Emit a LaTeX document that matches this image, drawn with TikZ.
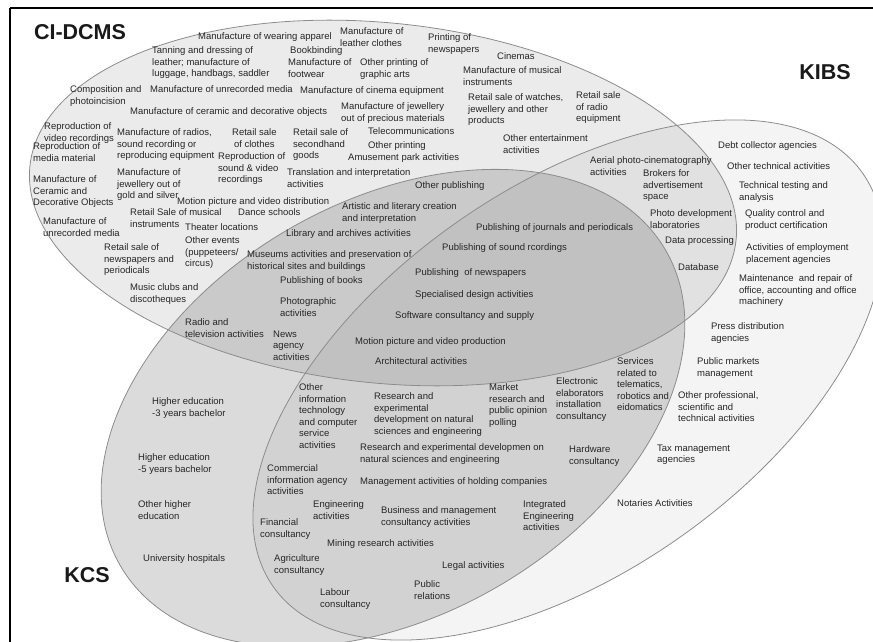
\documentclass[tikz,border=0pt]{standalone}
\usepackage{fontspec}
\setmainfont{Liberation Sans}
\begin{document}
\begin{tikzpicture}[x=1pt,y=-1pt,
  lbl/.style={font=\fontsize{9.5}{11.6}\selectfont, text=black!85, anchor=north west, align=left, inner sep=0pt},
  big/.style={font=\fontsize{21.5}{25}\selectfont\bfseries, text=black!90, inner sep=0pt},
  setline/.style={draw=black!45, line width=0.8pt}]
\useasboundingbox (0,0) rectangle (873,642);
\clip (0,0) rectangle (873,642);
% set fills
\fill[black, fill opacity=0.08, rotate around={-6:(383,203)}] (383,203) ellipse [x radius=355, y radius=180];
\fill[black, fill opacity=0.045, rotate around={35:(568,380)}] (568,380) ellipse [x radius=360, y radius=193];
\fill[black, fill opacity=0.14, rotate around={30:(393,408)}] (393,408) ellipse [x radius=315, y radius=207];
% outlines
\draw[setline, rotate around={-6:(383,203)}] (383,203) ellipse [x radius=355, y radius=180];
\draw[setline, rotate around={35:(568,380)}] (568,380) ellipse [x radius=360, y radius=193];
\draw[setline, rotate around={30:(393,408)}] (393,408) ellipse [x radius=315, y radius=207];
% frame
\draw[black, line width=1.2pt] (10,8) -- (873,8);
\draw[black, line width=1.2pt] (10,8) -- (10,642);
% set labels
\node[big] (ci) at (80,32) {CI-DCMS};
\node[big] (kibs) at (825,72) {KIBS};
\node[big] (kcs) at (87,575) {KCS};
% activities
\node[lbl] (t1) at (198,32.5) {Manufacture of wearing apparel};
\node[lbl] (t2) at (340,27.5) {Manufacture of\\leather clothes};
\node[lbl] (t3) at (428,33.5) {Printing of\\newspapers};
\node[lbl] (t4) at (152,46.5) {Tanning and dressing of\\leather; manufacture of\\luggage, handbags, saddler};
\node[lbl] (t5) at (290,46.5) {Bookbinding};
\node[lbl] (t6) at (288,58.5) {Manufacture of\\footwear};
\node[lbl] (t7) at (360,58.5) {Other printing of\\graphic arts};
\node[lbl] (t8) at (497,52.5) {Cinemas};
\node[lbl] (t9) at (463,66.5) {Manufacture of musical\\instruments};
\node[lbl] (t10) at (70,85.5) {Composition and\\photoincision};
\node[lbl] (t11) at (150,85.5) {Manufacture of unrecorded media};
\node[lbl] (t12) at (300,86.5) {Manufacture of cinema equipment};
\node[lbl] (t13) at (468,93.5) {Retail sale of watches,\\jewellery and other\\products};
\node[lbl] (t14) at (576,91.5) {Retail sale\\of radio\\equipment};
\node[lbl] (t15) at (130,107.5) {Manufacture of ceramic and decorative objects};
\node[lbl] (t16) at (341,102.5) {Manufacture of jewellery\\out of precious materials};
\node[lbl] (t17) at (44,122.5) {Reproduction of\\video recordings};
\node[lbl] (t18) at (117,128.5) {Manufacture of radios,\\sound recording or\\reproducing equipment};
\node[lbl, align=center] (t19) at (232,128.5) {Retail sale\\of clothes};
\node[lbl] (t20) at (293,128.5) {Retail sale of\\secondhand\\goods};
\node[lbl] (t21) at (368,127.5) {Telecommunications};
\node[lbl] (t22) at (368,141.5) {Other printing};
\node[lbl] (t23) at (503,134.5) {Other entertainment\\activities};
\node[lbl] (t24) at (33,142.5) {Reproduction of\\media material};
\node[lbl] (t25) at (218,152.5) {Reproduction of\\sound \& video\\recordings};
\node[lbl] (t26) at (348,153.5) {Amusement park activities};
\node[lbl] (t27) at (590,156.5) {Aerial photo-cinematography\\activities};
\node[lbl] (t28) at (718,141.5) {Debt collector agencies};
\node[lbl] (t29) at (727,162.5) {Other technical activities};
\node[lbl] (t30) at (117,168.5) {Manufacture of\\jewellery out of\\gold and silver};
\node[lbl] (t31) at (33,175.5) {Manufacture of\\Ceramic and\\Decorative Objects};
\node[lbl] (t32) at (287,168.5) {Translation and interpretation\\activities};
\node[lbl] (t33) at (643,169.5) {Brokers for\\advertisement\\space};
\node[lbl] (t34) at (739,181.5) {Technical testing and\\analysis};
\node[lbl] (t35) at (177,197.5) {Motion picture and video distribution};
\node[lbl] (t36) at (415,181.5) {Other publishing};
\node[lbl] (t37) at (130,208.5) {Retail Sale of musical\\instruments};
\node[lbl] (t38) at (238,208.5) {Dance schools};
\node[lbl] (t39) at (342,202.5) {Artistic and literary creation\\and interpretation};
\node[lbl] (t40) at (650,209.5) {Photo development\\laboratories};
\node[lbl] (t41) at (745,209.5) {Quality control and\\product certification};
\node[lbl] (t42) at (43,217.5) {Manufacture of\\unrecorded media};
\node[lbl] (t43) at (185,223.5) {Theater locations};
\node[lbl] (t44) at (476,223.5) {Publishing of journals and periodicals};
\node[lbl] (t45) at (286,229.5) {Library and archives activities};
\node[lbl] (t46) at (185,236.5) {Other events\\(puppeteers/\\circus)};
\node[lbl] (t47) at (104,243.5) {Retail sale of\\newspapers and\\periodicals};
\node[lbl] (t48) at (665,236.5) {Data processing};
\node[lbl] (t49) at (746,243.5) {Activities of employment\\placement agencies};
\node[lbl] (t50) at (442,243.5) {Publishing of sound rcordings};
\node[lbl] (t51) at (247,250.5) {Museums activities and preservation of\\historical sites and buildings};
\node[lbl] (t52) at (678,263.5) {Database};
\node[lbl] (t53) at (739,274.5) {Maintenance~~and repair of\\office, accounting and office\\machinery};
\node[lbl] (t54) at (415,268.5) {Publishing~~of newspapers};
\node[lbl] (t55) at (280,276.5) {Publishing of books};
\node[lbl] (t56) at (415,290.5) {Specialised design activities};
\node[lbl] (t57) at (130,283.5) {Music clubs and\\discotheques};
\node[lbl] (t58) at (280,297.5) {Photographic\\activities};
\node[lbl] (t59) at (395,311.5) {Software consultancy and supply};
\node[lbl] (t60) at (185,318.5) {Radio and\\television activities};
\node[lbl] (t61) at (273,330.5) {News\\agency\\activities};
\node[lbl] (t62) at (711,322.5) {Press distribution\\agencies};
\node[lbl] (t63) at (355,337.5) {Motion picture and video production};
\node[lbl] (t64) at (375,357.5) {Architectural activities};
\node[lbl] (t65) at (697,357.5) {Public markets\\management};
\node[lbl] (t66) at (617,357.5) {Services\\related to\\telematics,\\robotics and\\eidomatics};
\node[lbl] (t67) at (678,391.5) {Other professional,\\scientific and\\technical activities};
\node[lbl] (t68) at (657,444.5) {Tax management\\agencies};
\node[lbl] (t69) at (299,383.5) {Other\\information\\technology\\and computer\\service\\activities};
\node[lbl] (t70) at (374,392.5) {Research and\\experimental\\development on natural\\sciences and engineering};
\node[lbl] (t71) at (489,383.5) {Market\\research and\\public opinion\\polling};
\node[lbl] (t72) at (556,377.5) {Electronic\\elaborators\\installation\\consultancy};
\node[lbl] (t73) at (152,397.5) {Higher education\\-3 years bachelor};
\node[lbl] (t74) at (360,443.5) {Research and experimental developmen on\\natural sciences and engineering};
\node[lbl] (t75) at (569,445.5) {Hardware\\consultancy};
\node[lbl] (t76) at (138,453.5) {Higher education\\-5 years bachelor};
\node[lbl] (t77) at (267,464.5) {Commercial\\information agency\\activities};
\node[lbl] (t78) at (360,477.5) {Management activities of holding companies};
\node[lbl] (t79) at (138,500.5) {Other higher\\education};
\node[lbl] (t80) at (313,500.5) {Engineering\\activities};
\node[lbl] (t81) at (381,506.5) {Business and management\\consultancy activities};
\node[lbl] (t82) at (523,500.5) {Integrated\\Engineering\\activities};
\node[lbl] (t83) at (617,499.5) {Notaries Activities};
\node[lbl] (t84) at (260,518.5) {Financial\\consultancy};
\node[lbl] (t85) at (327,539.5) {Mining research activities};
\node[lbl] (t86) at (143,554.5) {University hospitals};
\node[lbl] (t87) at (274,554.5) {Agriculture\\consultancy};
\node[lbl] (t88) at (442,561.5) {Legal activities};
\node[lbl] (t89) at (320,588.5) {Labour\\consultancy};
\node[lbl] (t90) at (414,580.5) {Public\\relations};
\end{tikzpicture}
\end{document}
